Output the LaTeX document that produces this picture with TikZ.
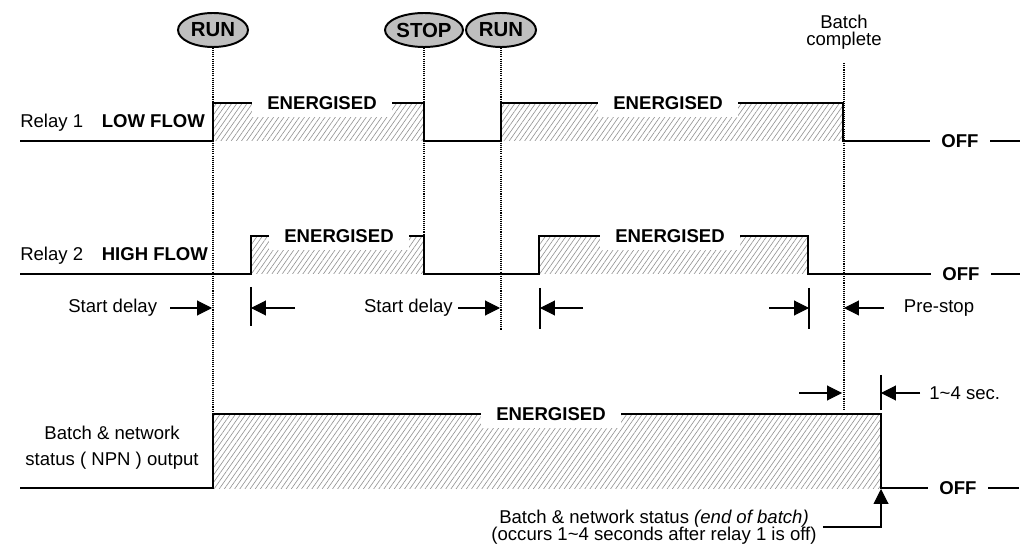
\documentclass[tikz,border=0pt]{standalone}
\usepackage{fontspec}
\setmainfont{Liberation Sans}
\usetikzlibrary{arrows.meta,shapes.geometric,patterns.meta}

\newcommand{\mainsize}{\fontsize{13.2}{15}\selectfont}

\tikzset{
  signal/.style={line width=1.4pt},
  hatch/.style={pattern={Lines[angle=55,distance=3pt,line width=0.45pt]}, pattern color=gray!85},
  marker/.style={line width=0.75pt, dash pattern=on 0.75pt off 0.75pt},
  command/.style={ellipse, draw, line width=1.4pt, fill=gray!50, minimum width=17.5mm, minimum height=8.5mm, inner sep=0pt, font=\fontsize{14.5}{17}\selectfont\bfseries},
  onlabel/.style={fill=white, minimum width=35mm, minimum height=7mm, inner sep=0pt, font=\mainsize\bfseries},
  offlabel/.style={fill=white, inner xsep=8pt, inner ysep=1pt, font=\mainsize\bfseries},
  dimarrow/.style={line width=0.75pt, -{Triangle[length=10.5pt,width=10.5pt]}},
  tickline/.style={line width=0.75pt},
}

\begin{document}
\begin{tikzpicture}[x=0.25mm, y=-0.25mm, font=\mainsize]
\useasboundingbox (0,0) rectangle (1028,552);

% commands on top
\node[command] (run1) at (213,30) {RUN};
\node[command] (stop) at (424,30) {STOP};
\node[command] (run2) at (501,30) {RUN};
\node[align=center, inner sep=0pt, font=\fontsize{13.2}{11.7}\selectfont] (done) at (844,32) {Batch\\complete};

% hatched on-states
\fill[hatch] (213,103) rectangle (424,141);
\fill[hatch] (501,103) rectangle (843,141);
\fill[hatch] (251,236) rectangle (424,274);
\fill[hatch] (539,236) rectangle (808,274);
\fill[hatch] (213,414) rectangle (881,488);

% time markers
\draw[marker] (run1.south) -- (run1.south |- 0,414);
\draw[marker] (stop.south) -- (stop.south |- 0,274);
\draw[marker] (run2.south) -- (run2.south |- 0,330);
\draw[marker] ([yshift=-3.5mm]done.south) -- (done.south |- 0,410);

% waveforms
\draw[signal] (20,141) -| (213,103) -| (424,141) -| (501,103) -| (843,141) -- (1020,141);
\draw[signal] (20,274) -| (251,236) -| (424,274) -| (539,236) -| (808,274) -- (1020,274);
\draw[signal] (20,488) -| (213,414) -| (881,488) -- (1019,488);

% state labels
\node[onlabel] (on11) at (322,103) {ENERGISED};
\node[onlabel] (on12) at (668,103) {ENERGISED};
\node[onlabel] (on21) at (339,236) {ENERGISED};
\node[onlabel] (on22) at (670,236) {ENERGISED};
\node[onlabel] (on3) at (551,414) {ENERGISED};
\node[offlabel] (off1) at (960,141) {OFF};
\node[offlabel] (off2) at (961,274) {OFF};
\node[offlabel] (off3) at (958,488) {OFF};

% row labels
\node[anchor=base west, inner sep=0pt] (relay1) at (20,128) {Relay 1\quad\textbf{LOW FLOW}};
\node[anchor=base west, inner sep=0pt] (relay2) at (20,261) {Relay 2\quad\textbf{HIGH FLOW}};
\node[align=center, inner sep=0pt, font=\fontsize{13.2}{18.5}\selectfont] (status) at (112,448) {Batch \& network\\status ( NPN ) output};

% delay marks
\coordinate (d1) at (212,308);
\coordinate (d2) at (251,308);
\coordinate (d3) at (500,308);
\coordinate (d4) at (540,308);
\coordinate (d5) at (809,308);
\coordinate (d6) at (844,308);
\coordinate (d7) at (842,393);
\coordinate (d8) at (881,393);
\coordinate (d9) at (881,489);

\draw[tickline] ([yshift=5.25mm]d2) -- ([yshift=-4.5mm]d2);
\draw[tickline] ([yshift=5mm]d4) -- ([yshift=-5.25mm]d4);
\draw[tickline] ([yshift=5mm]d5) -- ([yshift=-5.25mm]d5);
\draw[tickline] ([yshift=4.5mm]d8) -- ([yshift=-4.25mm]d8);

\node[anchor=east, inner xsep=9pt] (delay1) at ([xshift=-10.5mm]d1) {Start delay};
\draw[dimarrow] (delay1.east) -- (d1);
\draw[dimarrow] ([xshift=11mm]d2) -- (d2);
\node[anchor=east, inner xsep=3.5pt] (delay2) at ([xshift=-10.5mm]d3) {Start delay};
\draw[dimarrow] (delay2.east) -- (d3);
\draw[dimarrow] ([xshift=10.75mm]d4) -- (d4);
\draw[dimarrow] ([xshift=-10mm]d5) -- (d5);
\node[anchor=west, inner xsep=14pt] (prestop) at ([xshift=10mm]d6) {Pre-stop};
\draw[dimarrow] (prestop.west) -- (d6);
\draw[dimarrow] ([xshift=-10.75mm]d7) -- (d7);
\node[anchor=west, inner xsep=6.5pt] (lag) at ([xshift=9.75mm]d8) {1\textasciitilde4 sec.};
\draw[dimarrow] (lag.west) -- (d8);

% end of batch note
\node[align=center, inner sep=0pt, font={\fontsize{13.2}{12.3}\selectfont\lineskiplimit=-4pt}] (note) at (654,527) {Batch \& network status \textit{(end of batch)}\\(occurs 1\textasciitilde4 seconds after relay 1 is off)};
\draw[dimarrow] ([xshift=1.5mm]note.east) -| (d9);
\end{tikzpicture}
\end{document}
